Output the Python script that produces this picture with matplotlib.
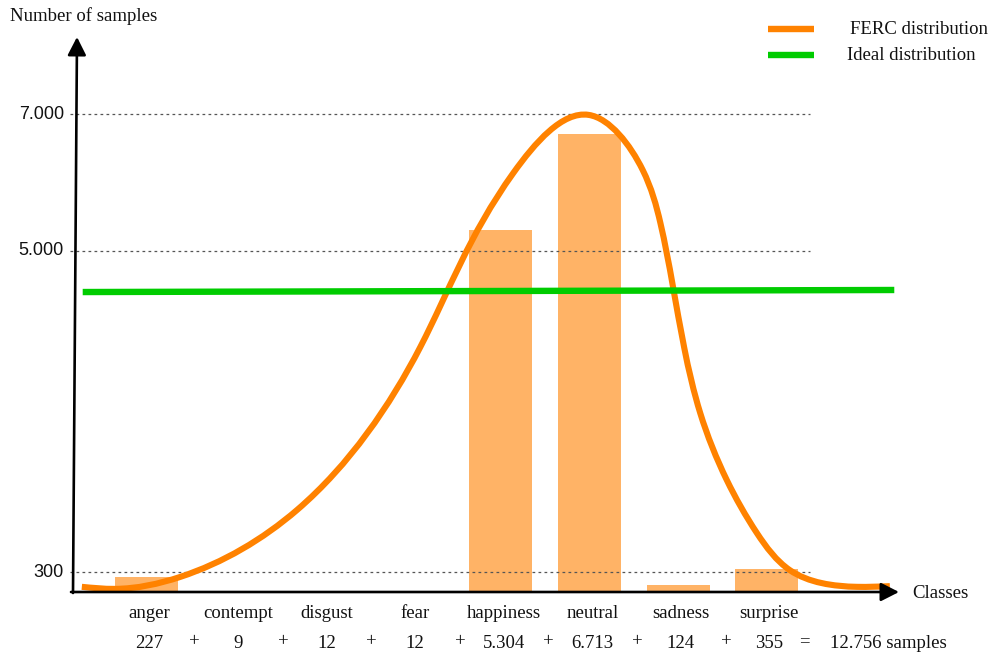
import matplotlib
matplotlib.use("Agg")
import matplotlib.pyplot as plt
import numpy as np
from matplotlib.path import Path
from matplotlib.patches import PathPatch, FancyArrowPatch
from matplotlib import transforms

# ---- data ----
classes = ["anger", "contempt", "disgust", "fear", "happiness", "neutral", "sadness", "surprise"]
counts = [227, 9, 12, 12, 5304, 6713, 124, 355]
count_labels = ["227", "9", "12", "12", "5.304", "6.713", "124", "355"]
total_label = "12.756 samples"
y_ticks = [300, 5000, 7000]
y_tick_labels = ["300", "5.000", "7.000"]

# hand-drawn FERC distribution curve (class position, samples)
curve_x = [-0.73, -0.36, 0.38, 1.70, 3.09, 4.14, 4.99, 5.60, 5.80, 6.07,
           6.25, 6.55, 6.89, 7.26, 8.02, 8.39]
curve_y = [90, 60, 235, 1215, 3595, 6140, 6990, 6185, 5410, 3580,
           2630, 1650, 875, 335, 90, 100]

# ideal (uniform) distribution level
ideal_x = [-0.72, 8.44]
ideal_y = [4400, 4430]

ORANGE = "#FF8200"
BAR = "#FFB366"
GREEN = "#00CC00"
SERIF = ["Liberation Serif", "DejaVu Serif"]
SANS = ["Liberation Sans", "DejaVu Sans"]

W, H = 990, 657
fig = plt.figure(figsize=(W / 100, H / 100), dpi=100)

# value-space axes for bars, curve and reference lines
ax = fig.add_axes([0, 0, 1, 1])
ax.set_xlim(-1.6535, 9.5203)
ax.set_ylim(-935.7, 8669.6)
ax.axis("off")
ax.patch.set_alpha(0)

# pixel-space overlay for the hand-drawn frame and annotations (on top)
axp = fig.add_axes([0, 0, 1, 1])
axp.set_xlim(0, W)
axp.set_ylim(H, 0)
axp.axis("off")
axp.patch.set_alpha(0)
axp.set_zorder(2)

x = np.arange(len(classes))
ax.bar(x, counts, width=0.71, color=BAR, zorder=1)

# dashed reference lines at the tick values
for v in y_ticks:
    ax.plot([-0.86, 7.49], [v, v], color="#555555", lw=0.9,
            dashes=(2.2, 2.6), zorder=2)

# tick labels (x in pixels, y in samples)
blend = transforms.blended_transform_factory(axp.transData, ax.transData)
for v, lab in zip(y_ticks, y_tick_labels):
    ax.text(64, v, lab, transform=blend, ha="right", va="center",
            fontsize=13, family=SANS, color="#111111")


def smooth_path(xs, ys, axes):
    """Natural cubic spline (chord-length parameter, screen space) as Beziers."""
    P = axes.transData.transform(np.column_stack([xs, ys]).astype(float))
    h = np.linalg.norm(np.diff(P, axis=0), axis=1)
    n = len(P)
    A = np.zeros((n, n))
    rhs = np.zeros((n, 2))
    A[0, 0] = A[-1, -1] = 1.0
    for i in range(1, n - 1):
        A[i, i - 1] = h[i - 1]
        A[i, i] = 2 * (h[i - 1] + h[i])
        A[i, i + 1] = h[i]
        rhs[i] = 6 * ((P[i + 1] - P[i]) / h[i] - (P[i] - P[i - 1]) / h[i - 1])
    M = np.linalg.solve(A, rhs)
    verts = [P[0]]
    codes = [Path.MOVETO]
    for i in range(n - 1):
        s = (P[i + 1] - P[i]) / h[i]
        d0 = s - h[i] * (2 * M[i] + M[i + 1]) / 6
        d1 = s + h[i] * (M[i] + 2 * M[i + 1]) / 6
        verts += [P[i] + d0 * h[i] / 3, P[i + 1] - d1 * h[i] / 3, P[i + 1]]
        codes += [Path.CURVE4] * 3
    verts = axes.transData.inverted().transform(np.array(verts))
    return Path(verts, codes)


ax.add_patch(PathPatch(smooth_path(curve_x, curve_y, ax), facecolor="none",
                       edgecolor=ORANGE, lw=4.4, capstyle="butt", zorder=3))

ax.plot(ideal_x, ideal_y, color=GREEN, lw=4.6, solid_capstyle="butt", zorder=4)

# axes with arrow heads
arrow_kw = dict(arrowstyle="-|>,head_length=0.55,head_width=0.28",
                mutation_scale=20, color="black", lw=1.9, shrinkA=0, shrinkB=0)
axp.add_patch(FancyArrowPatch((73, 593), (77, 37), **arrow_kw))
axp.add_patch(FancyArrowPatch((71, 592), (899, 592), **arrow_kw))

axp.text(10, 16, "Number of samples", ha="left", va="center",
         fontsize=13.5, family=SERIF, color="#111111")
axp.text(912, 593, "Classes", ha="left", va="center",
         fontsize=13.5, family=SERIF, color="#111111")

# legend
axp.plot([768, 814], [29, 29], color=ORANGE, lw=4.6, solid_capstyle="butt")
axp.plot([768, 814], [55, 55], color=GREEN, lw=4.6, solid_capstyle="butt")
axp.text(850, 29, "FERC distribution", ha="left", va="center",
         fontsize=13.5, family=SERIF, color="#111111")
axp.text(847, 55, "Ideal distribution", ha="left", va="center",
         fontsize=13.5, family=SERIF, color="#111111")

# class names and sample counts under the axis
row_name = transforms.blended_transform_factory(ax.transData, axp.transData)
for i, (name, lab) in enumerate(zip(classes, count_labels)):
    ax.text(i + 0.03, 614, name, transform=row_name, ha="center", va="center",
            fontsize=13.5, family=SERIF, color="#111111")
    ax.text(i + 0.03, 643, lab, transform=row_name, ha="center", va="center",
            fontsize=13.5, family=SERIF, color="#111111")
    if i < len(classes) - 1:
        ax.text(i + 0.54, 642, "+", transform=row_name, ha="center", va="center",
                fontsize=13.5, family=SERIF, color="#111111")
ax.text(7.42, 642, "=", transform=row_name, ha="center", va="center",
        fontsize=13.5, family=SERIF, color="#111111")
ax.text(7.72, 643, total_label, transform=row_name, ha="left", va="center",
        fontsize=13.5, family=SERIF, color="#111111")

fig.savefig("out.png", dpi=100)
